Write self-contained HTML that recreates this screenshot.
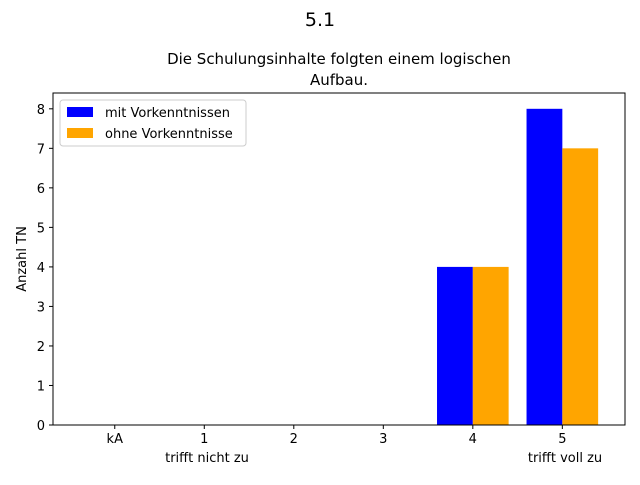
<!DOCTYPE html>
<html><head><meta charset="utf-8"><style>
body{margin:0;background:#fff;font-family:"Liberation Sans","DejaVu Sans",sans-serif}
</style></head><body>
<svg width="640" height="480" xmlns="http://www.w3.org/2000/svg" font-family="DejaVu Sans, Liberation Sans, sans-serif">
<rect width="640" height="480" fill="#fff"/>
<text x="320" y="26" font-size="19" text-anchor="middle">5.1</text>
<text x="339" y="64" font-size="15" text-anchor="middle">Die Schulungsinhalte folgten einem logischen</text>
<text x="339" y="85" font-size="15" text-anchor="middle">Aufbau.</text>
<g id="bars"></g>
<g id="xt"></g><g id="yt"></g>
<rect x="53" y="93" width="572" height="332" fill="none" stroke="#000" stroke-width="1"/>
<text transform="translate(26,259) rotate(-90)" font-size="13" text-anchor="middle">Anzahl TN</text>
<text x="207" y="462" font-size="13" text-anchor="middle">trifft nicht zu</text>
<text x="565" y="462" font-size="13" text-anchor="middle">trifft voll zu</text>
<g>
<rect x="60" y="100" width="186" height="46" fill="#fff" stroke="#ccc" rx="3"/>
<rect x="67" y="107" width="26" height="10" fill="#0000ff"/>
<text x="105" y="117" font-size="13">mit Vorkenntnissen</text>
<rect x="67" y="128" width="26" height="10" fill="#ffa500"/>
<text x="105" y="138" font-size="13">ohne Vorkenntnisse</text>
</g>
</svg>
<script>
const categories=["kA","1","2","3","4","5"];
const mitValues=[0,0,0,0,4,8];
const ohneValues=[0,0,0,0,4,7];
const yTicks=[0,1,2,3,4,5,6,7,8];
const NS="http://www.w3.org/2000/svg";
const x0=53,x1=625,y0=425,y1=93,xmin=-0.69,xmax=5.7,ymin=0,ymax=8.4;
const xs=v=>x0+(v-xmin)/(xmax-xmin)*(x1-x0);
const ys=v=>y0-(v-ymin)/(ymax-ymin)*(y0-y1);
const unit=xs(1)-xs(0);
function mk(t,a,p){const e=document.createElementNS(NS,t);for(const k in a)e.setAttribute(k,a[k]);p.appendChild(e);return e;}
const bars=document.getElementById('bars'),xt=document.getElementById('xt'),yt=document.getElementById('yt');
categories.forEach((c,i)=>{
  const cx=xs(i);
  if(mitValues[i]>0){const r=mk('rect',{x:cx-0.4*unit,y:ys(mitValues[i]),width:0.4*unit,height:ys(0)-ys(mitValues[i]),fill:'#0000ff'},bars);
  
  }
  if(ohneValues[i]>0){const r=mk('rect',{x:cx,y:ys(ohneValues[i]),width:0.4*unit,height:ys(0)-ys(ohneValues[i]),fill:'#ffa500'},bars);
  
  }
  mk('line',{x1:cx,x2:cx,y1:y0,y2:y0+4,stroke:'#000'},xt);
  const t=mk('text',{x:cx,y:y0+18,'font-size':13,'text-anchor':'middle'},xt);t.textContent=c;
  
  
});
yTicks.forEach(v=>{
  const y=ys(v);
  mk('line',{x1:x0-4,x2:x0,y1:y,y2:y,stroke:'#000'},yt);
  const t=mk('text',{x:x0-8,y:y+5,'font-size':13,'text-anchor':'end'},yt);t.textContent=v;
  
  
});
</script>
</body></html>
